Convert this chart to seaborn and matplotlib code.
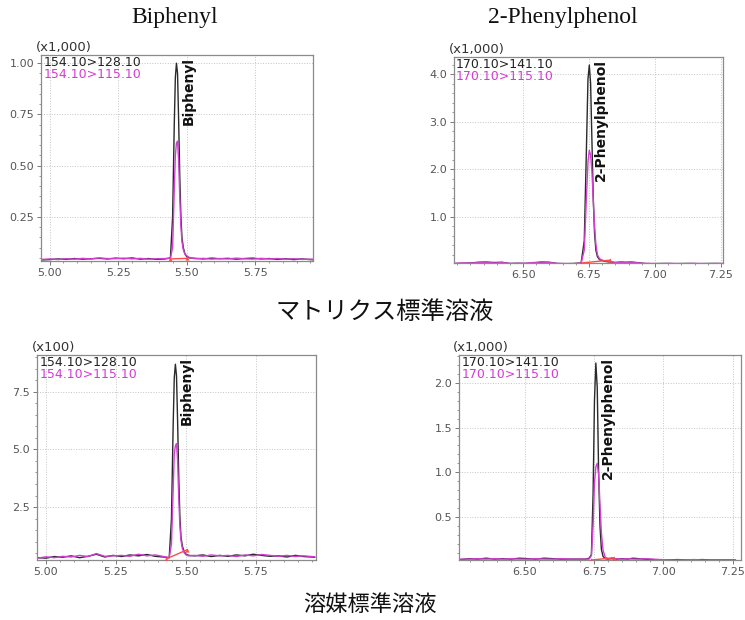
import matplotlib
matplotlib.use("Agg")
import matplotlib.pyplot as plt
import seaborn as sns
import pandas as pd
from matplotlib.ticker import MultipleLocator, FormatStrFormatter, FixedLocator

# ---------------- data ----------------
titles = ["Biphenyl", "2-Phenylphenol"]
row_labels = ["マトリクス標準溶液", "溶媒標準溶液"]

t_bp = [4.97, 5.00, 5.03, 5.06, 5.09, 5.12, 5.15, 5.18, 5.21, 5.24,
        5.27, 5.30, 5.33, 5.36, 5.39, 5.42, 5.44, 5.448, 5.454, 5.458,
        5.462, 5.466, 5.470, 5.474, 5.478, 5.482, 5.487, 5.493, 5.50, 5.51,
        5.53, 5.56, 5.59, 5.62, 5.65, 5.68, 5.71, 5.74, 5.77, 5.80,
        5.83, 5.86, 5.89, 5.92, 5.96]

bp_matrix_128 = [0.040, 0.042, 0.045, 0.043, 0.047, 0.044, 0.046, 0.048, 0.045, 0.049,
                 0.046, 0.050, 0.044, 0.047, 0.043, 0.045, 0.050, 0.25, 0.70, 0.93,
                 1.00, 0.95, 0.72, 0.45, 0.26, 0.15, 0.10, 0.07, 0.055, 0.050,
                 0.048, 0.045, 0.049, 0.046, 0.048, 0.044, 0.047, 0.049, 0.045, 0.047,
                 0.043, 0.046, 0.042, 0.045, 0.041]
bp_matrix_115 = [0.043, 0.045, 0.042, 0.046, 0.044, 0.048, 0.045, 0.050, 0.047, 0.046,
                 0.049, 0.045, 0.048, 0.044, 0.046, 0.047, 0.049, 0.10, 0.38, 0.55,
                 0.61, 0.62, 0.52, 0.35, 0.21, 0.13, 0.09, 0.068, 0.060, 0.052,
                 0.046, 0.048, 0.044, 0.047, 0.045, 0.049, 0.046, 0.044, 0.048, 0.045,
                 0.047, 0.044, 0.046, 0.043, 0.044]

bp_solvent_128 = [0.30, 0.28, 0.35, 0.32, 0.38, 0.30, 0.36, 0.45, 0.33, 0.40,
                  0.35, 0.42, 0.38, 0.44, 0.36, 0.33, 0.30, 2.00, 6.00, 8.10,
                  8.70, 8.20, 6.20, 3.80, 2.10, 1.20, 0.80, 0.58, 0.45, 0.40,
                  0.38, 0.42, 0.35, 0.40, 0.36, 0.42, 0.38, 0.45, 0.40, 0.36,
                  0.38, 0.33, 0.40, 0.35, 0.32]
bp_solvent_115 = [0.28, 0.34, 0.30, 0.36, 0.33, 0.40, 0.35, 0.48, 0.36, 0.38,
                  0.40, 0.36, 0.45, 0.38, 0.42, 0.35, 0.30, 0.90, 3.20, 4.80,
                  5.15, 5.25, 4.50, 2.90, 1.70, 1.05, 0.70, 0.52, 0.42, 0.38,
                  0.40, 0.36, 0.42, 0.38, 0.40, 0.35, 0.42, 0.38, 0.44, 0.40,
                  0.36, 0.40, 0.35, 0.38, 0.34]

t_pp = [6.24, 6.27, 6.30, 6.33, 6.36, 6.39, 6.42, 6.45, 6.48, 6.51,
        6.54, 6.57, 6.60, 6.63, 6.66, 6.69, 6.72, 6.732, 6.740, 6.746,
        6.751, 6.756, 6.761, 6.766, 6.771, 6.776, 6.782, 6.79, 6.80, 6.815,
        6.83, 6.85, 6.87, 6.89, 6.91, 6.93, 6.96, 6.99, 7.02, 7.05,
        7.08, 7.11, 7.14, 7.17, 7.20, 7.23, 7.26]

pp_matrix_141 = [0.02, 0.025, 0.03, 0.045, 0.05, 0.04, 0.045, 0.02, 0.025, 0.02,
                 0.03, 0.05, 0.045, 0.02, 0.015, 0.02, 0.03, 0.50, 2.40, 3.90,
                 4.19, 3.80, 2.60, 1.40, 0.65, 0.30, 0.16, 0.10, 0.08, 0.06,
                 0.05, 0.04, 0.05, 0.045, 0.05, 0.04, 0.02, 0.015, 0.02, 0.02,
                 0.015, 0.02, 0.02, 0.015, 0.02, 0.02, 0.015]
pp_matrix_115 = [0.02, 0.03, 0.025, 0.04, 0.045, 0.03, 0.04, 0.02, 0.02, 0.025,
                 0.04, 0.05, 0.04, 0.02, 0.02, 0.015, 0.03, 0.30, 1.40, 2.15,
                 2.40, 2.30, 1.95, 1.35, 0.80, 0.42, 0.20, 0.12, 0.09, 0.07,
                 0.06, 0.04, 0.045, 0.04, 0.045, 0.035, 0.02, 0.02, 0.015, 0.02,
                 0.02, 0.015, 0.02, 0.02, 0.015, 0.02, 0.02]

pp_solvent_141 = [0.03, 0.025, 0.035, 0.03, 0.04, 0.03, 0.035, 0.03, 0.04, 0.035,
                  0.03, 0.04, 0.035, 0.03, 0.03, 0.03, 0.03, 0.04, 0.08, 0.75,
                  1.80, 2.22, 1.95, 1.00, 0.40, 0.14, 0.06, 0.035, 0.03, 0.04,
                  0.03, 0.035, 0.03, 0.04, 0.035, 0.03, 0.025, 0.02, 0.02, 0.025,
                  0.02, 0.02, 0.025, 0.02, 0.02, 0.02, 0.02]
pp_solvent_115 = [0.025, 0.03, 0.03, 0.035, 0.03, 0.035, 0.03, 0.035, 0.03, 0.03,
                  0.035, 0.03, 0.03, 0.035, 0.03, 0.03, 0.03, 0.03, 0.07, 0.40,
                  0.88, 1.06, 1.10, 0.97, 0.64, 0.32, 0.13, 0.05, 0.035, 0.03,
                  0.035, 0.03, 0.035, 0.03, 0.03, 0.035, 0.03, 0.025, 0.02, 0.02,
                  0.02, 0.025, 0.02, 0.02, 0.02, 0.02, 0.02]

# integration baselines (start, end)
bp_matrix_base_t = [5.44, 5.50]
bp_matrix_base_y = [0.045, 0.048]
bp_solvent_base_t = [5.43, 5.505]
bp_solvent_base_y = [0.25, 0.65]
pp_matrix_base_t = [6.72, 6.83]
pp_matrix_base_y = [0.03, 0.09]
pp_solvent_base_t = [6.74, 6.82]
pp_solvent_base_y = [0.02, 0.045]

channels_bp = ["154.10>128.10", "154.10>115.10"]
channels_pp = ["170.10>141.10", "170.10>115.10"]
bp_xticks = [5.00, 5.25, 5.50, 5.75]
pp_xticks = [6.50, 6.75, 7.00, 7.25]

# ---------------- styling ----------------
sns.set_style("white")
plt.rcParams["font.family"] = ["DejaVu Sans", "Noto Sans CJK JP"]

BLACK = "#2a2a2a"
MAGENTA = "#d23fd2"
RED = "#ff4a4a"

fig = plt.figure(figsize=(7.45, 6.2), dpi=100)
W, H = 745, 620


def rect(l, r, t, b):
    return [l / W, 1 - b / H, (r - l) / W, (b - t) / H]


panels = [
    dict(rect=rect(41, 313, 55, 261), t=t_bp, y1=bp_matrix_128, y2=bp_matrix_115,
         bt=bp_matrix_base_t, by=bp_matrix_base_y, xlim=(4.968, 5.96), ylim=(0.035, 1.04),
         yticks=[0.25, 0.50, 0.75, 1.00], yfmt="%.2f", yminor=0.05, scale="(x1,000)",
         ch=channels_bp, name="Biphenyl", xticks=bp_xticks),
    dict(rect=rect(454, 723, 57, 263), t=t_pp, y1=pp_matrix_141, y2=pp_matrix_115,
         bt=pp_matrix_base_t, by=pp_matrix_base_y, xlim=(6.238, 7.258), ylim=(0.03, 4.36),
         yticks=[1.0, 2.0, 3.0, 4.0], yfmt="%.1f", yminor=0.2, scale="(x1,000)",
         ch=channels_pp, name="2-Phenylphenol", xticks=pp_xticks),
    dict(rect=rect(37, 316, 355, 560), t=t_bp, y1=bp_solvent_128, y2=bp_solvent_115,
         bt=bp_solvent_base_t, by=bp_solvent_base_y, xlim=(4.968, 5.964), ylim=(0.2, 9.1),
         yticks=[2.5, 5.0, 7.5], yfmt="%.1f", yminor=0.5, scale="(x100)",
         ch=channels_bp, name="Biphenyl", xticks=bp_xticks),
    dict(rect=rect(459, 741, 355, 560), t=t_pp, y1=pp_solvent_141, y2=pp_solvent_115,
         bt=pp_solvent_base_t, by=pp_solvent_base_y, xlim=(6.262, 7.28), ylim=(0.02, 2.31),
         yticks=[0.5, 1.0, 1.5, 2.0], yfmt="%.1f", yminor=0.1, scale="(x1,000)",
         ch=channels_pp, name="2-Phenylphenol", xticks=pp_xticks),
]

for p in panels:
    ax = fig.add_axes(p["rect"])
    df = pd.DataFrame({"t": p["t"] * 2,
                       "y": list(p["y1"]) + list(p["y2"]),
                       "ch": [p["ch"][0]] * len(p["t"]) + [p["ch"][1]] * len(p["t"])})
    sns.lineplot(data=df, x="t", y="y", hue="ch", palette=[BLACK, MAGENTA],
                 estimator=None, sort=False, linewidth=1.0, legend=False, ax=ax)
    ax.plot(p["bt"], p["by"], color=RED, linewidth=1.0, marker="^", markersize=3,
            markeredgewidth=0, zorder=3)
    ax.set_xlim(*p["xlim"])
    ax.set_ylim(*p["ylim"])
    ax.set_xlabel("")
    ax.set_ylabel("")
    ax.xaxis.set_major_locator(FixedLocator(p["xticks"]))
    ax.xaxis.set_major_formatter(FormatStrFormatter("%.2f"))
    ax.xaxis.set_minor_locator(MultipleLocator(0.05))
    ax.yaxis.set_major_locator(FixedLocator(p["yticks"]))
    ax.yaxis.set_major_formatter(FormatStrFormatter(p["yfmt"]))
    ax.yaxis.set_minor_locator(MultipleLocator(p["yminor"]))
    ax.tick_params(which="major", direction="out", length=3, width=0.7, color="#777777",
                   labelsize=8, labelcolor="#555555", pad=2)
    ax.tick_params(which="minor", direction="out", length=1.6, width=0.6, color="#888888")
    ax.tick_params(axis="x", which="both", bottom=True)
    ax.tick_params(axis="y", which="both", left=True)
    ax.grid(True, which="major", linestyle=":", color="#c4c4c4", linewidth=0.7)
    for s in ax.spines.values():
        s.set_color("#8a8a8a")
        s.set_linewidth(0.9)
    ax.text(-0.02, 1.004, p["scale"], transform=ax.transAxes, ha="left", va="bottom",
            fontsize=9.5, color="#333333")
    ax.text(0.008, 0.995, p["ch"][0], transform=ax.transAxes, ha="left", va="top",
            fontsize=9, color="#222222")
    ax.text(0.008, 0.937, p["ch"][1], transform=ax.transAxes, ha="left", va="top",
            fontsize=9, color="#d63ad6")
    apex_t = p["t"][max(range(len(p["y1"])), key=lambda i: p["y1"][i])]
    ax.annotate(p["name"], xy=(apex_t, 1.0), xycoords=("data", "axes fraction"),
                xytext=(3.5, -1.5), textcoords="offset points", rotation=90,
                ha="left", va="top", fontsize=10, fontweight="bold", color="#111111")

serif = ["Liberation Serif", "DejaVu Serif"]
fig.text(175 / W, 1 - 18 / H, titles[0], ha="center", va="center", fontsize=17,
         family=serif, color="#111111")
fig.text(563 / W, 1 - 18 / H, titles[1], ha="center", va="center", fontsize=17,
         family=serif, color="#111111")
fig.text(385 / W, 1 - 312 / H, row_labels[0], ha="center", va="center", fontsize=17.5,
         family=["Noto Sans CJK JP"], color="#111111")
fig.text(370 / W, 1 - 604 / H, row_labels[1], ha="center", va="center", fontsize=16,
         family=["Noto Sans CJK JP"], color="#111111")

fig.savefig("out.png", dpi=100)
